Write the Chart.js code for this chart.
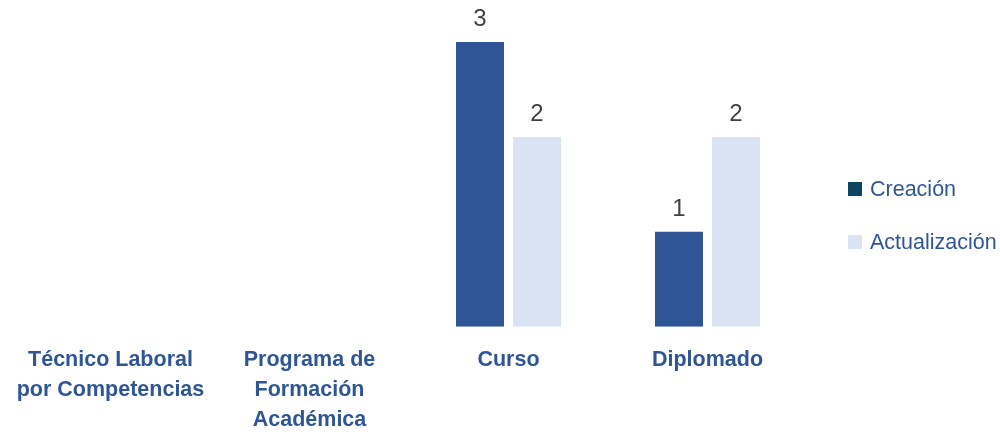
<!DOCTYPE html>
<html>
<head>
<meta charset="utf-8">
<script src="https://cdn.jsdelivr.net/npm/chart.js@4.4.1/dist/chart.umd.min.js"></script>
<style>
  html, body { margin: 0; padding: 0; background: #fff; }
  #wrap { width: 1000px; height: 434px; position: relative; }
</style>
</head>
<body>
<div id="wrap"><canvas id="chart"></canvas></div>
<script>
// data
const categories = [
  ['Técnico Laboral', 'por Competencias'],
  ['Programa de', 'Formación', 'Académica'],
  'Curso',
  'Diplomado'
];
const creacion = [null, null, 3, 1];
const actualizacion = [null, null, 2, 2];
const seriesNames = ['Creación', 'Actualización'];

const FONT = "'Liberation Sans', Arial, sans-serif";
const barColors = ['#2F5597', '#DAE3F3'];
const legendColors = ['#0E4460', '#DAE3F3'];

// value labels above bars
const valueLabels = {
  id: 'valueLabels',
  afterDatasetsDraw(chart) {
    const ctx = chart.ctx;
    ctx.save();
    ctx.font = '24px ' + FONT;
    ctx.fillStyle = '#404040';
    ctx.textAlign = 'center';
    ctx.textBaseline = 'alphabetic';
    chart.data.datasets.forEach((ds, i) => {
      chart.getDatasetMeta(i).data.forEach((bar, j) => {
        const v = ds.data[j];
        if (v == null) return;
        ctx.fillText(String(v), bar.x, bar.y - 16);
      });
    });
    ctx.restore();
  }
};

// legend on the right, drawn from the datasets
const sideLegend = {
  id: 'sideLegend',
  afterDraw(chart) {
    const ctx = chart.ctx;
    const x = chart.chartArea.right + 41;
    const y0 = 189, step = 53;
    ctx.save();
    ctx.font = '21.5px ' + FONT;
    ctx.textBaseline = 'middle';
    ctx.textAlign = 'left';
    chart.data.datasets.forEach((ds, i) => {
      const y = y0 + i * step;
      ctx.fillStyle = legendColors[i];
      ctx.fillRect(x, y - 7, 14, 14);
      ctx.fillStyle = '#2F5597';
      ctx.fillText(ds.label, x + 22, y + 1);
    });
    ctx.restore();
  }
};

new Chart(document.getElementById('chart'), {
  type: 'bar',
  data: {
    labels: categories,
    datasets: [
      { label: seriesNames[0], data: creacion, backgroundColor: barColors[0] },
      { label: seriesNames[1], data: actualizacion, backgroundColor: barColors[1] }
    ]
  },
  options: {
    responsive: true,
    maintainAspectRatio: false,
    animation: false,
    layout: { padding: { top: 42, left: 11, right: 193, bottom: -11 } },
    categoryPercentage: 0.573,
    barPercentage: 0.842,
    scales: {
      x: {
        grid: { display: false },
        border: { display: false },
        ticks: {
          color: '#2F5597',
          padding: 10,
          maxRotation: 0,
          autoSkip: false,
          font: { family: FONT, size: 21.5, weight: 'bold', lineHeight: 1.4 }
        }
      },
      y: {
        display: false,
        min: 0,
        max: 3
      }
    },
    plugins: {
      tooltip: { enabled: false },
      legend: { display: false }
    }
  },
  plugins: [valueLabels, sideLegend]
});
</script>
</body>
</html>
